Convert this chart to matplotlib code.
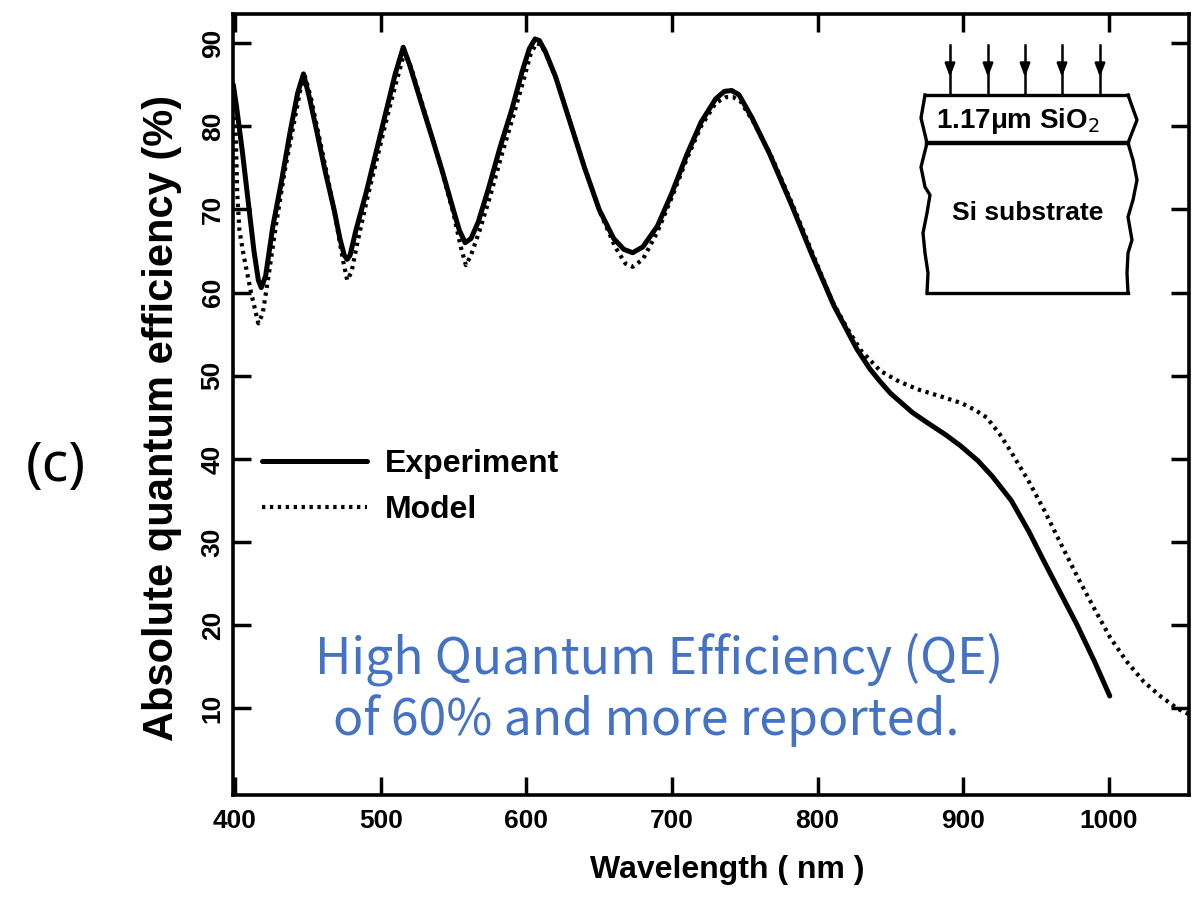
import matplotlib.pyplot as plt

# Experiment curve (wavelength nm, absolute QE %)
wavelength_exp = [398.8, 401, 405, 409, 413, 416, 418, 421, 426, 432, 438, 443, 447,
                  451, 456, 462, 468, 472, 475, 477, 479, 483, 490, 497, 504, 510, 515.5,
                  520, 527, 535, 542, 549, 554, 558, 562, 567, 574, 582, 590, 597, 602,
                  606, 609, 613, 620, 630, 640, 650, 660, 667, 673, 680, 690, 700, 710,
                  720, 730, 736, 741, 746, 755, 767, 782, 796, 811, 827, 836, 843, 850,
                  865, 875, 888, 898, 910, 920, 933, 945, 956, 967, 978, 990, 1000.6]
qe_exp = [85, 82.4, 77, 71, 65, 61.5, 60.6, 62, 68, 73.5, 79.5, 84, 86.3,
          83.5, 79.5, 74.5, 70, 66.5, 64.5, 64, 64.5, 67.5, 72, 77, 82, 86.3, 89.5,
          87.3, 83.3, 78.8, 74.8, 70.5, 67.5, 66, 66.5, 68.5, 72.5, 77.5, 82, 86.5, 89.3,
          90.5, 90.3, 89, 86, 80.5, 75, 70, 66.5, 65.2, 64.8, 65.5, 68, 72, 76.5,
          80.5, 83.3, 84.2, 84.3, 83.8, 81, 76.7, 70.6, 64.6, 58.5, 53.2, 50.8, 49.3, 47.9,
          45.6, 44.4, 42.9, 41.6, 39.8, 37.9, 35, 31.3, 27.5, 23.8, 20.1, 15.7, 11.5]

# Model curve
wavelength_model = [398.8, 400.5, 401.5, 403, 406, 411, 416, 419, 423, 428, 434, 440, 445,
                    448, 452, 458, 464, 470, 474, 477, 480, 484, 491, 498, 505, 511, 516.5,
                    521, 528, 536, 543, 550, 555, 558.5, 562, 568, 575, 583, 591, 598, 603,
                    607, 610, 614, 621, 631, 641, 651, 661, 668, 673, 680, 690, 700, 710,
                    720, 730, 737, 742, 747, 756, 768, 783, 797, 810, 820, 830, 843, 856,
                    870, 885, 899, 908, 916, 925, 933, 945, 956, 967, 978.5, 990, 1001,
                    1012, 1024, 1036, 1047, 1055]
qe_model = [84, 79, 72, 67.5, 64.4, 60, 56.3, 57.5, 62, 68, 74.5, 80, 84.5,
            86, 83.5, 78.5, 73.5, 68, 64, 61.5, 62.5, 66, 71.5, 76.5, 81.5, 85.5, 89,
            87, 83, 78.3, 74, 69.5, 65.5, 63.3, 64.5, 67.5, 71.5, 76.5, 81.2, 85.5, 88.7,
            90, 89.8, 88.5, 85.5, 80, 74.5, 69.5, 65.5, 63.5, 63.1, 64, 67.3, 71.5, 76,
            80, 82.8, 83.5, 83.5, 83, 80.5, 76.5, 70.5, 64.5, 59, 55.8, 53, 50.6, 49.3,
            48.3, 47.5, 46.7, 45.9, 45, 43, 40.8, 37.3, 33.7, 29.8, 25.8, 22, 18.5,
            15.7, 13.2, 11.4, 10, 9.3]

x_ticks = [400, 500, 600, 700, 800, 900, 1000]
y_ticks = [10, 20, 30, 40, 50, 60, 70, 80, 90]

plt.rcParams['font.family'] = ['Liberation Sans', 'DejaVu Sans']

fig = plt.figure(figsize=(11.96, 8.98), dpi=100)
W, H = 1196, 898
ax = fig.add_axes([233 / W, 1 - 795 / H, (1189 - 233) / W, (795 - 14) / H])

ax.plot(wavelength_exp, qe_exp, color='black', lw=3.6, solid_capstyle='round',
        solid_joinstyle='round', label='Experiment')
ax.plot(wavelength_model, qe_model, color='black', lw=3.0,
        linestyle=(0, (0.8, 1.1)), label='Model')

ax.set_xlim(398.6, 1055)
ax.set_ylim(-0.4, 93.5)
ax.set_xticks(x_ticks)
ax.set_xticklabels([str(v) for v in x_ticks], fontsize=19, fontweight='bold')
ax.set_yticks(y_ticks)
ax.set_yticklabels([str(v) for v in y_ticks], fontsize=19, fontweight='bold',
                   rotation=90, va='center')
ax.tick_params(direction='in', length=13, width=2.5, top=True, right=True)
ax.tick_params(axis='x', pad=10)
ax.tick_params(axis='y', pad=6)
for s in ax.spines.values():
    s.set_linewidth(2.6)

ax.set_xlabel('Wavelength ( nm )', fontsize=23, fontweight='bold', va='center')
ax.xaxis.set_label_coords((727 - 233) / 956, (795 - 870) / 781)
ax.set_ylabel('Absolute quantum efficiency (%)', fontsize=30, fontweight='bold',
              va='center')
ax.yaxis.set_label_coords((162 - 233) / 956, (795 - 418) / 781)

leg = ax.legend(loc='upper left', bbox_to_anchor=((262 - 233) / 956, (795 - 449) / 781),
                frameon=False, borderpad=0, borderaxespad=0, handlelength=3.3,
                handletextpad=0.55, labelspacing=0.5,
                prop={'size': 23, 'weight': 'bold'})

# panel tag and annotation
fig.text(56 / W, 1 - 467 / H, '(c)', fontsize=40, family=['Noto Sans', 'DejaVu Sans'],
         ha='center', va='center')
blue = '#4472C4'
fig.text(659 / W, 1 - 673 / H, 'High Quantum Efficiency (QE)', fontsize=36, color=blue,
         family=['Noto Sans CJK JP', 'DejaVu Sans'], ha='center', va='baseline')
fig.text(646 / W, 1 - 735 / H, 'of 60% and more reported.', fontsize=36, color=blue,
         family=['Noto Sans CJK JP', 'DejaVu Sans'], ha='center', va='baseline')

# inset sketch of the layer stack (pixel coordinates of the figure)
ov = fig.add_axes([0, 0, 1, 1])
ov.set_xlim(0, W)
ov.set_ylim(H, 0)
ov.axis('off')
ov.patch.set_alpha(0)

lw_in = 2.4
ov.plot([925, 1128], [95, 95], color='k', lw=lw_in)
ov.plot([925, 921, 927], [95, 118, 143], color='k', lw=lw_in)
ov.plot([1128, 1137, 1128], [95, 120, 143], color='k', lw=lw_in)
ov.plot([927, 1128], [143, 143], color='k', lw=3.2)
ov.plot([927, 921, 925, 930, 927, 923, 925, 928, 927],
        [143, 167, 187, 195, 213, 233, 253, 273, 293], color='k', lw=lw_in)
ov.plot([1128, 1133, 1137, 1133, 1128, 1132, 1128, 1127, 1128],
        [143, 160, 180, 200, 217, 240, 253, 273, 293], color='k', lw=lw_in)
ov.plot([927, 1128], [293, 293], color='k', lw=lw_in)
for xa in [950, 988, 1025, 1062, 1100]:
    ov.plot([xa, xa], [45, 95], color='k', lw=1.8)
    ov.annotate('', xy=(xa, 80), xytext=(xa, 62),
                arrowprops=dict(arrowstyle='-|>,head_length=0.8,head_width=0.3',
                                color='k', lw=1.8))
ov.text(1018, 121, '1.17μm SiO$_2$', fontsize=20, fontweight='bold', ha='center',
        va='center')
ov.text(1028, 213, 'Si substrate', fontsize=19, fontweight='bold', ha='center',
        va='center')

fig.savefig('out.png', dpi=100)
